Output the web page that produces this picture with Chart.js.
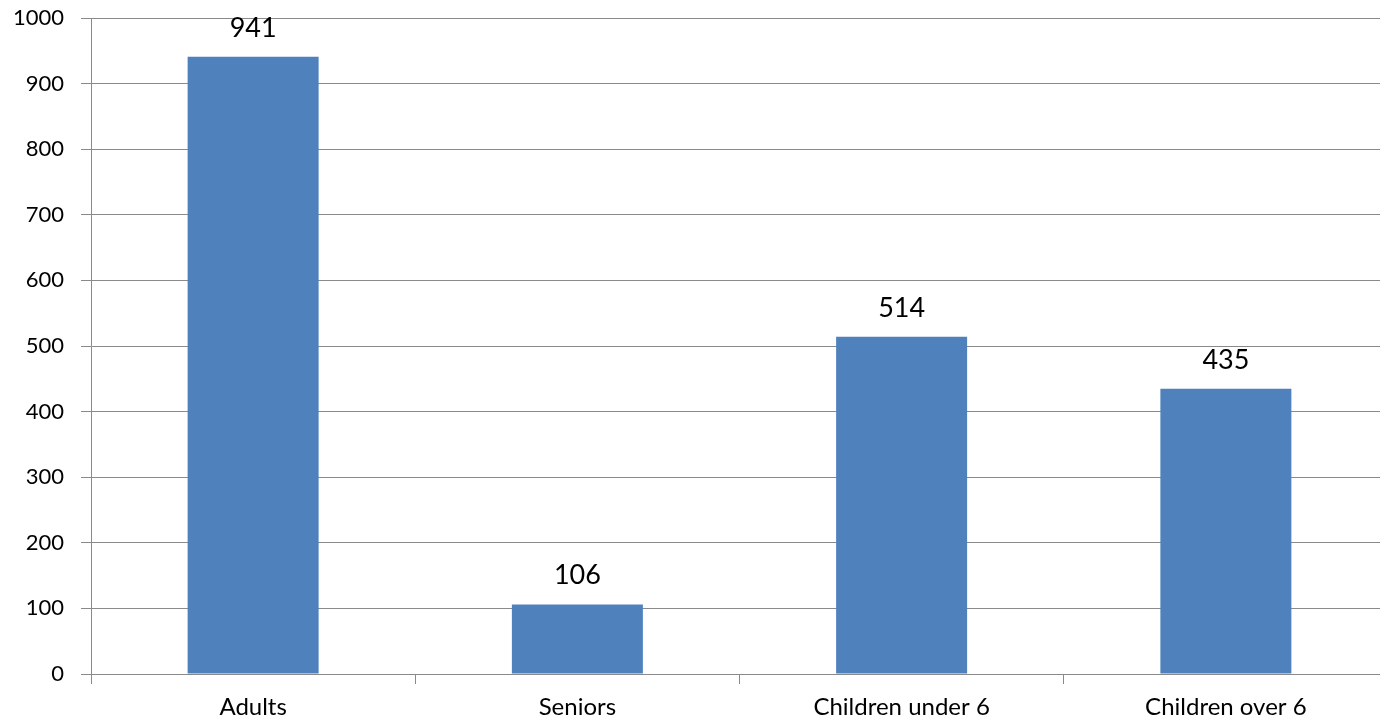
<!DOCTYPE html>
<html>
<head>
<meta charset="utf-8">
<script src="https://cdn.jsdelivr.net/npm/chart.js@4/dist/chart.umd.min.js"></script>
<style>
  html, body { margin: 0; padding: 0; overflow: hidden; background: #fff; }
  #wrap { position: relative; width: 1390px; height: 722px; }
</style>
</head>
<body>
<div id="wrap"><canvas id="c"></canvas></div>
<script>
const categories = ["Adults", "Seniors", "Children under 6", "Children over 6"];
const values = [941, 106, 514, 435];
const yTicks = [0, 100, 200, 300, 400, 500, 600, 700, 800, 900, 1000];

const FONT = "Lato, 'Open Sans', sans-serif";
const GRID = "#8a8a8a";

const valueLabels = {
  id: "valueLabels",
  afterDatasetsDraw(chart) {
    const ctx = chart.ctx;
    const meta = chart.getDatasetMeta(0);
    ctx.save();
    ctx.font = "27px " + FONT;
    ctx.fillStyle = "#000";
    ctx.textAlign = "center";
    ctx.textBaseline = "alphabetic";
    meta.data.forEach((bar, i) => {
      ctx.fillText(String(values[i]), bar.x, bar.y - 20);
    });
    ctx.restore();
  }
};

new Chart(document.getElementById("c"), {
  type: "bar",
  data: {
    labels: categories,
    datasets: [{
      data: values,
      backgroundColor: "#4F81BD",
      borderWidth: 0,
      barPercentage: 0.404,
      categoryPercentage: 1.0
    }]
  },
  options: {
    responsive: true,
    maintainAspectRatio: false,
    animation: false,
    layout: { padding: { top: 18, right: 2, left: 0, bottom: 0 } },
    plugins: { legend: { display: false }, tooltip: { enabled: false } },
    scales: {
      x: {
        grid: { offset: true, drawOnChartArea: false, drawTicks: true, tickLength: 10, color: GRID, lineWidth: 1 },
        border: { display: true, color: GRID, width: 1 },
        ticks: { color: "#000", font: { family: FONT, size: 24 }, padding: 9, maxRotation: 0, autoSkip: false },
        afterFit(s) { s.height = 48; s.paddingLeft = 0; s.paddingRight = 0; }
      },
      y: {
        min: 0, max: 1000,
        afterBuildTicks(s) { s.ticks = yTicks.map(v => ({ value: v })); },
        grid: { color: GRID, lineWidth: 1, tickLength: 10, drawTicks: true },
        border: { display: true, color: GRID, width: 1 },
        ticks: { color: "#000", font: { family: FONT, size: 22 }, padding: 17, callback: v => String(v) },
        afterFit(s) { s.width = 91; s.paddingTop = 0; s.paddingBottom = 0; }
      }
    }
  },
  plugins: [valueLabels]
});
</script>
</body>
</html>
